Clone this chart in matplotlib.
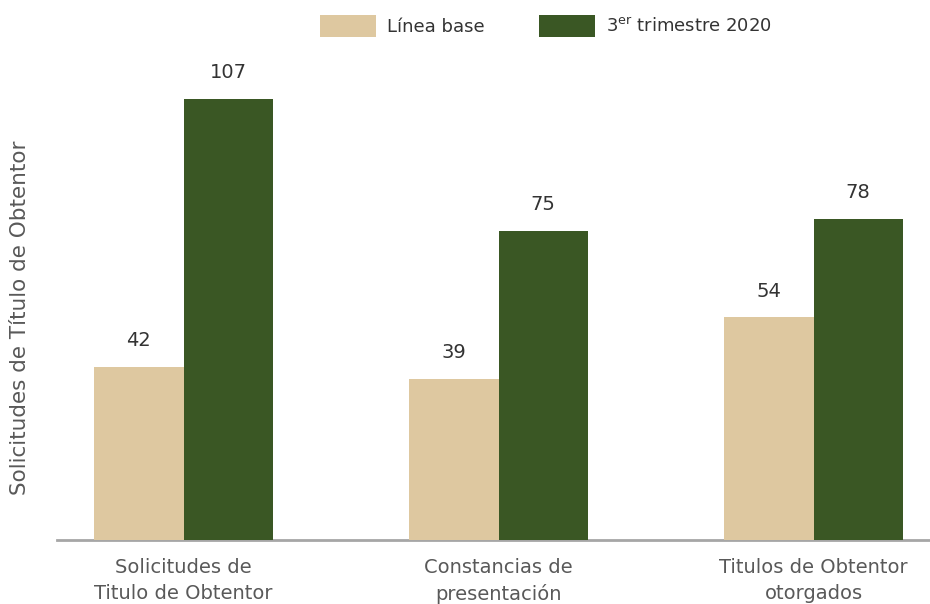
import matplotlib.pyplot as plt
import numpy as np

# ------------------------------
# datos
# ------------------------------
categorias = ["Solicitudes de\nTitulo de Obtentor", "Constancias de\npresentación", "Titulos de Obtentor\notorgados"]
linea_base = [42, 39, 54]
trimestre_2020 = [107, 75, 78]
series_labels = ["Línea base", "3$^{\\mathrm{er}}$ trimestre 2020"]

color_base = "#dec8a0"
color_2020 = "#3a5724"
color_texto = "#595959"

plt.rcParams['font.family'] = ['DejaVu Sans']
plt.rcParams['mathtext.fontset'] = 'custom'
plt.rcParams['mathtext.rm'] = 'DejaVu Sans'

fig = plt.figure(figsize=(9.3, 6.04), dpi=100)
ax = fig.add_axes([57 / 930, (604 - 540) / 604, 873 / 930, 500 / 604])

x = np.arange(len(categorias))
ancho = 0.284

b1 = ax.bar(x - ancho / 2, linea_base, ancho, color=color_base, label=series_labels[0], zorder=3)
b2 = ax.bar(x + ancho / 2, trimestre_2020, ancho, color=color_2020, label=series_labels[1], zorder=3)

for barras in (b1, b2):
    for rect in barras:
        ax.annotate(f"{rect.get_height():.0f}",
                    (rect.get_x() + rect.get_width() / 2, rect.get_height()),
                    xytext=(0, 19), textcoords='offset points',
                    ha='center', va='center', fontsize=14, color="#333333")

x0 = -0.4016
ax.set_xlim(x0, x0 + 873 / 315)
ax.set_ylim(0, 500 / 441 * 107)

ax.set_xticks(x)
ax.set_xticklabels(categorias, fontsize=14, color=color_texto, linespacing=1.45)
ax.tick_params(axis='x', length=0, pad=13)
ax.set_yticks([])

for s in ['top', 'right', 'left']:
    ax.spines[s].set_visible(False)
ax.spines['bottom'].set_color("#a6a6a6")
ax.spines['bottom'].set_linewidth(2)
ax.spines['bottom'].set_zorder(2)

fig.text(20 / 930, 1 - 318 / 604, "Solicitudes de Título de Obtentor", rotation=90,
         ha='center', va='center', fontsize=15.5, color=color_texto)

fig.legend(loc='center', bbox_to_anchor=(546 / 930, 1 - 26 / 604), ncol=2, frameon=False,
           fontsize=13, handlelength=3.1, handleheight=1.5, handletextpad=0.6,
           columnspacing=3.0, labelcolor="#333333")

plt.savefig("out.png", dpi=100)
